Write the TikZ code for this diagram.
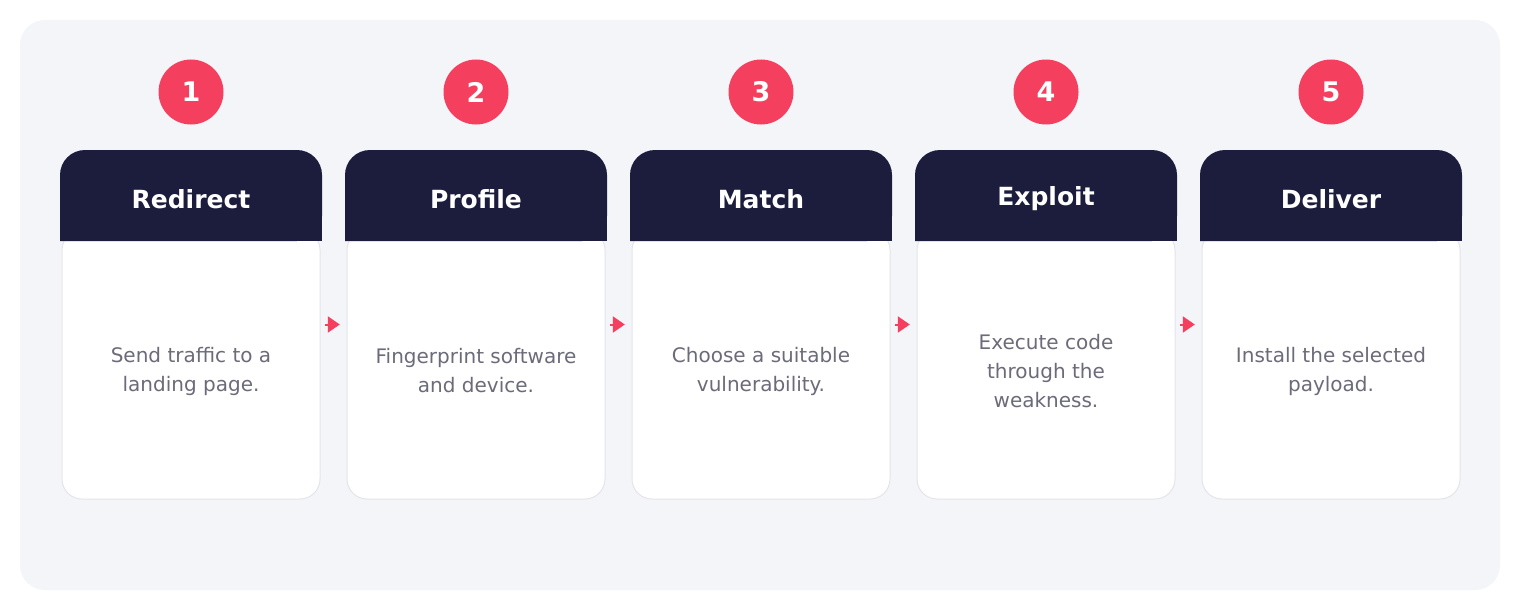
\documentclass[tikz,border=0pt]{standalone}
\usepackage{fontspec}
\setmainfont{DejaVu Sans}
\usetikzlibrary{arrows.meta}
\definecolor{panel}{HTML}{F4F5F9}
\definecolor{hdr}{HTML}{1C1C3D}
\definecolor{accent}{HTML}{F43F5E}
\definecolor{bodytxt}{HTML}{6B6B7A}
\definecolor{cardline}{HTML}{E4E5EA}
\tikzset{
  x=1pt, y=-1pt,
  badge/.style={circle, fill=accent, minimum size=65pt, inner sep=0pt, text=white, font=\fontsize{27}{30}\selectfont\bfseries},
  cardframe/.style={minimum width=262pt, minimum height=349pt, inner sep=0pt},
  hdrtext/.style={text=white, font=\fontsize{25}{29}\selectfont\bfseries},
  bodytext/.style={text=bodytxt, align=center, font=\fontsize{20}{29}\selectfont},
  flow/.style={draw=accent, line width=2pt, -{Triangle[length=12pt,width=16pt]}, shorten <=3pt, shorten >=5pt},
}
\begin{document}
\begin{tikzpicture}
\useasboundingbox (0,0) rectangle (1520,610);
\fill[white] (0,0) rectangle (1520,610);
\fill[panel, rounded corners=25pt] (20,20) rectangle (1500,590);
\foreach \i/\t/\b in {1/Redirect/{Send traffic to a\\landing page.},
                      2/Profile/{Fingerprint software\\and device.},
                      3/Match/{Choose a suitable\\vulnerability.},
                      4/Exploit/{Execute code\\through the\\weakness.},
                      5/Deliver/{Install the selected\\payload.}}{
  \pgfmathsetmacro{\xl}{60+285*(\i-1)}
  \pgfmathsetmacro{\xr}{\xl+262}
  \pgfmathsetmacro{\xc}{\xl+131}
  % body
  \filldraw[fill=white, draw=cardline, line width=1pt, rounded corners=20pt]
    (\xl+2,230) -- (\xl+2,499) -- (\xr-2,499) -- (\xr-2,230) -- cycle;
  % header
  \fill[hdr, rounded corners=25pt] (\xl,241) -- (\xl,150) -- (\xr,150) -- (\xr,241) [sharp corners] -- cycle;
  \fill[hdr] (\xl,215) rectangle (\xr,241);
  \node[cardframe] (c\i) at (\xc,324.5) {};
  \node[hdrtext] (h\i) at (\xc,199) {\t};
  \node[bodytext] (b\i) at (\xc,371) {\b};
  \node[badge] (n\i) at (\xc,92) {\i};
}
\foreach \a/\b in {1/2,2/3,3/4,4/5}{
  \draw[flow] (c\a.east) -- (c\b.west);
}
\end{tikzpicture}
\end{document}
